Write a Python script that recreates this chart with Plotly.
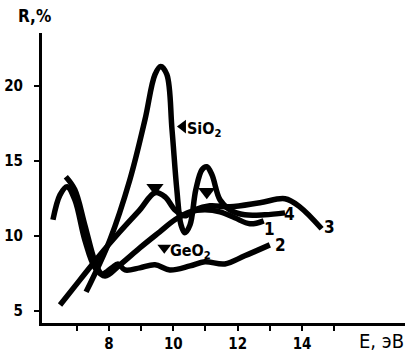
import plotly.graph_objects as go

# ---- data ----
c1_x = [6.26, 6.48, 6.70, 6.94, 7.25, 7.57, 7.88, 8.34, 8.96, 9.58, 10.05, 10.52, 10.98, 11.45, 11.91, 12.38, 12.81]
c1_y = [11.07, 12.73, 13.27, 12.4, 9.73, 7.87, 7.33, 8.07, 9.2, 10.27, 11.07, 11.6, 11.73, 11.6, 11.2, 10.8, 11.0]

c2_x = [6.66, 6.94, 7.25, 7.57, 7.78, 8.09, 8.28, 8.50, 8.96, 9.43, 9.89, 10.52, 10.98, 11.60, 12.22, 13.0]
c2_y = [13.93, 13.07, 10.73, 8.27, 7.47, 7.87, 8.13, 7.73, 7.87, 8.07, 7.73, 8.0, 8.27, 8.13, 8.67, 9.4]

c3_x = [6.48, 7.10, 7.72, 8.34, 8.96, 9.43, 9.74, 10.05, 10.36, 10.67, 11.14, 11.76, 12.69, 13.47, 13.93, 14.61]
c3_y = [5.4, 7.07, 8.73, 10.27, 11.73, 12.87, 12.6, 11.73, 11.33, 11.73, 12.0, 11.93, 12.2, 12.47, 11.93, 10.47]

c4_x = [7.29, 8.03, 8.65, 9.12, 9.43, 9.61, 9.80, 9.96, 10.11, 10.24, 10.36, 10.52, 10.70, 10.89, 11.04, 11.20, 11.45, 11.76, 12.22, 12.84, 13.47]
c4_y = [6.27, 9.73, 13.73, 17.73, 20.73, 21.27, 20.73, 17.07, 13.07, 10.73, 10.2, 10.73, 13.07, 14.4, 14.6, 14.07, 12.4, 11.73, 11.4, 11.4, 11.53]

curve_labels = ["1", "2", "3", "4"]
label_x = [13.0, 13.34, 14.86, 13.62]
label_y = [10.47, 9.4, 10.6, 11.47]

geo2_marks_x = [9.43, 11.04]
geo2_marks_y = [13.2, 12.93]

x_tickvals = [8, 10, 12, 14]
x_ticktext = ["8", "10", "12", "14"]
x_minor_ticks = [7, 9, 11, 13, 15]
y_tickvals = [5, 10, 15, 20]
y_ticktext = ["5", "10", "15", "20"]

FONT = "DejaVu Sans Condensed, DejaVu Sans, Arial"

fig = go.Figure()
for xs, ys in [(c1_x, c1_y), (c2_x, c2_y), (c3_x, c3_y), (c4_x, c4_y)]:
    fig.add_trace(go.Scatter(x=xs, y=ys, mode="lines",
                             line=dict(color="black", width=5.5, shape="spline", smoothing=1.0),
                             showlegend=False, hoverinfo="skip"))

fig.add_trace(go.Scatter(x=geo2_marks_x, y=geo2_marks_y, mode="markers",
                         marker=dict(symbol="triangle-down", size=15, color="black"),
                         showlegend=False, hoverinfo="skip"))
# markers beside the SiO2 / GeO2 labels
fig.add_trace(go.Scatter(x=[10.30], y=[17.27], mode="markers",
                         marker=dict(symbol="triangle-left", size=12, color="black"),
                         showlegend=False, hoverinfo="skip"))
fig.add_trace(go.Scatter(x=[9.72], y=[9.2], mode="markers",
                         marker=dict(symbol="triangle-down", size=12, color="black"),
                         showlegend=False, hoverinfo="skip"))

annotations = []
for t, x, y in zip(curve_labels, label_x, label_y):
    annotations.append(dict(x=x, y=y, xref="x", yref="y", text=f"<b>{t}</b>", showarrow=False,
                            font=dict(family=FONT, size=17, color="black")))
annotations.append(dict(x=10.35, y=17.1, xref="x", yref="y", xanchor="left", text="<b>SiO<sub>2</sub></b>",
                        showarrow=False, font=dict(family=FONT, size=16, color="black")))
annotations.append(dict(x=9.85, y=8.95, xref="x", yref="y", xanchor="left", text="<b>GeO<sub>2</sub></b>",
                        showarrow=False, font=dict(family=FONT, size=16, color="black")))
annotations.append(dict(x=-0.02, y=1.06, xref="paper", yref="paper", xanchor="center", yanchor="middle",
                        text="<b>R,%</b>", showarrow=False,
                        font=dict(family=FONT, size=17, color="black")))
annotations.append(dict(x=0.935, y=-0.062, xref="paper", yref="paper", xanchor="center", yanchor="middle",
                        text="E, эВ", showarrow=False,
                        font=dict(family=FONT, size=20, color="black")))

fig.update_layout(
    width=410, height=353,
    margin=dict(l=42, r=5, t=33, b=30),
    paper_bgcolor="white", plot_bgcolor="white",
    annotations=annotations,
    xaxis=dict(range=[5.92, 17.2], showgrid=False, zeroline=False, automargin=False,
               showline=True, linecolor="black", linewidth=3,
               tickmode="array", tickvals=x_tickvals, ticktext=x_ticktext,
               ticks="outside", ticklen=5, tickwidth=2, tickcolor="black",
               minor=dict(tickmode="array", tickvals=x_minor_ticks, ticks="outside",
                          ticklen=5, tickwidth=2, tickcolor="black", showgrid=False),
               tickfont=dict(family=FONT, size=15, color="black", weight="bold"),
               ticklabelstandoff=0),
    yaxis=dict(range=[4.2, 23.5], showgrid=False, zeroline=False, automargin=False,
               showline=True, linecolor="black", linewidth=3,
               tickmode="array", tickvals=y_tickvals, ticktext=y_ticktext,
               ticks="outside", ticklen=5, tickwidth=2, tickcolor="black",
               tickfont=dict(family=FONT, size=15, color="black", weight="bold"),
               ticklabelstandoff=8),
)

fig.write_html("out.html", config={"displayModeBar": False},
               post_script="document.body.style.margin='0';document.body.style.padding='0';document.body.style.overflow='hidden';")
